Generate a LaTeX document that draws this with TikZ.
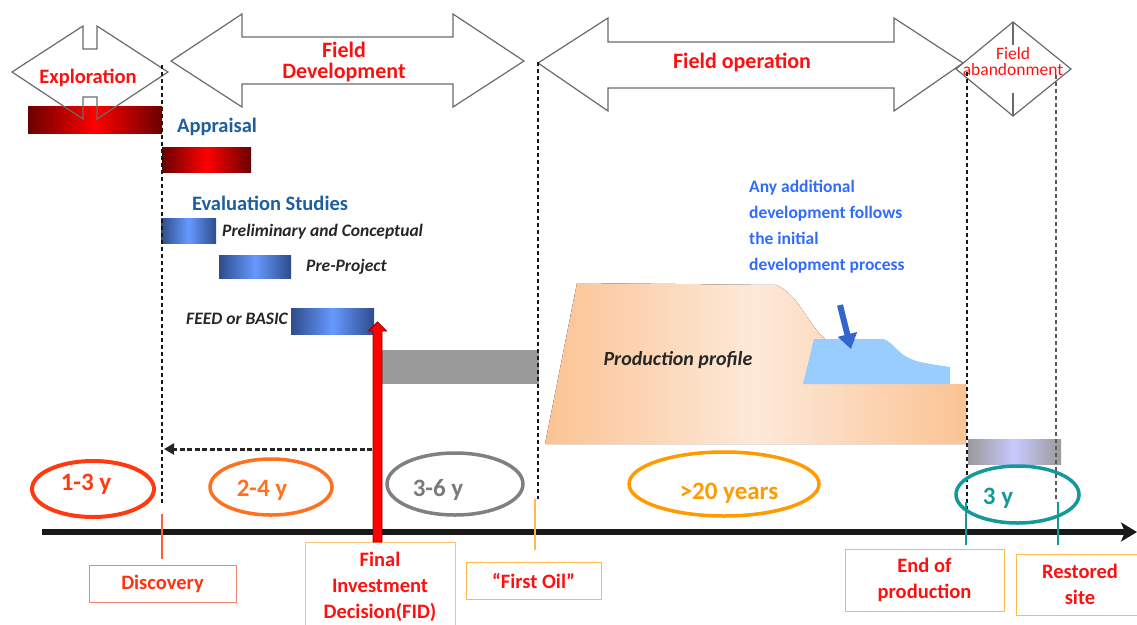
\documentclass[tikz,border=0pt]{standalone}
\usepackage{fontspec}
\setmainfont{Carlito}
\usetikzlibrary{shapes.geometric,arrows.meta}
\definecolor{titlered}{HTML}{FF1010}
\definecolor{arrowgray}{HTML}{6A6A6A}
\definecolor{phaseblue}{HTML}{1F5E9E}
\definecolor{addblue}{HTML}{2F6BFF}
\definecolor{textdark}{HTML}{262626}
\definecolor{darkbarred}{HTML}{6A0000}
\definecolor{darkbarblue}{HTML}{2E4C8C}
\definecolor{lightbarblue}{HTML}{6699FF}
\definecolor{barlav}{HTML}{C8C8FF}
\definecolor{bargray}{HTML}{9A9A9A}
\definecolor{peach}{HTML}{FBC393}
\definecolor{peachlight}{HTML}{FDE9D9}
\definecolor{addfill}{HTML}{99CCFF}
\definecolor{addarrow}{HTML}{3366CC}
\definecolor{cA}{HTML}{FF3A10}
\definecolor{cB}{HTML}{FF7020}
\definecolor{cC}{HTML}{808080}
\definecolor{cD}{HTML}{FF9A00}
\definecolor{cE}{HTML}{13999A}
\definecolor{discborder}{HTML}{F0846E}
\definecolor{boxborder}{HTML}{FFB84D}
\definecolor{fidborder}{HTML}{FFC07A}
\definecolor{fidred}{HTML}{FF0000}
\definecolor{fidedge}{HTML}{8B0000}
\begin{document}
\begin{tikzpicture}[x=1pt,y=-1pt,
  outline/.style={draw=arrowgray, line width=1.2pt, line join=miter},
  vdash/.style={draw=black!90, line width=1.3pt, dash pattern=on 4pt off 3pt},
  ttl/.style={text=titlered, font=\fontsize{22}{21}\selectfont\bfseries, align=center, inner sep=0pt},
  phase/.style={text=phaseblue, font=\fontsize{20.5}{24}\selectfont\bfseries, inner sep=0pt},
  study/.style={text=textdark, font=\fontsize{17.5}{20}\selectfont\bfseries\itshape, inner sep=0pt},
  dur/.style={ellipse, line width=3.5pt, inner sep=0pt},
  durtext/.style={font=\fontsize{25}{28}\selectfont\bfseries, inner sep=0pt},
  milestone/.style={draw, line width=1pt, text=titlered, font=\fontsize{20.5}{26}\selectfont\bfseries, align=center, inner sep=0pt},
  redbar/.style={left color=darkbarred, right color=darkbarred, middle color=red},
  bluebar/.style={left color=darkbarblue, right color=darkbarblue, middle color=lightbarblue},
  tick/.style={line width=1.5pt}
]
\useasboundingbox (0,0) rectangle (1137,624);

% ---------- bars ----------
\fill[redbar] (28,106) rectangle (162,133);
\fill[redbar] (162,147) rectangle (251,172);
\fill[bluebar] (161,218) rectangle (216,243);
\fill[bluebar] (219,255) rectangle (291,278);
\fill[bluebar] (291,308) rectangle (374,334);
\fill[bargray] (382,350) rectangle (539,384);
\fill[left color=bargray, right color=bargray, middle color=barlav] (968,439) rectangle (1061,464);

% ---------- production profile ----------
\fill[left color=peach, right color=peach, middle color=peachlight]
  (545,444) -- (577,283) -- (776,285) .. controls (798,294) and (806,322) .. (826,340)
  -- (826,384) -- (966,384) -- (966,444) -- cycle;
\fill[addfill] (803,384) -- (814,339) -- (883,339)
  .. controls (895,342) and (896,356) .. (920,362)
  .. controls (935,365) and (944,366) .. (950,367) -- (950,384) -- cycle;
\coordinate (ba1) at (840,305);
\coordinate (ba2) at (851,349);
\draw[addarrow, line width=6pt, -{Triangle[length=15pt,width=19pt]}] (ba1) -- (ba2);
\node[text=textdark, font=\fontsize{20}{24}\selectfont\bfseries\itshape, inner sep=0pt] (prod) at (678,360) {Production profile};
\node[text=addblue, font=\fontsize{17.5}{26}\selectfont\bfseries, align=left, inner sep=0pt, anchor=west] (addtxt) at (749,227) {Any additional\\development follows\\the initial\\development process};

% ---------- top phase arrows ----------
\draw[outline] (12,72) -- (83,26) -- (83,49) -- (97,49) -- (97,26) -- (168,72) -- (97,119) -- (97,97) -- (83,97) -- (83,119) -- cycle;
\draw[outline] (171,61) -- (242,14) -- (242,37) -- (453,37) -- (453,14) -- (524,61) -- (453,107) -- (453,84) -- (242,84) -- (242,107) -- cycle;
\draw[outline] (538,63) -- (608,18) -- (608,42) -- (894,42) -- (894,18) -- (963,63) -- (894,111) -- (894,88) -- (608,88) -- (608,111) -- cycle;
\draw[outline] (956,69) -- (1013,22) -- (1071,69) -- (1013,116) -- cycle;
\draw[outline] (1013,22) -- (1013,45);
\draw[outline] (1013,93) -- (1013,116);

\node[ttl, font=\fontsize{20.5}{19}\selectfont\bfseries] (expl) at (88,78) {Exploration};
\node[ttl] (fdev) at (344,62) {Field\\Development};
\node[ttl] (fop) at (742,62) {Field operation};
\node[ttl, font=\fontsize{17.5}{16}\selectfont] (fab) at (1013,61) {Field\\abandonment};

% ---------- phase labels ----------
\node[phase] (appr) at (217,127) {Appraisal};
\node[phase] (eval) at (270,203) {Evaluation Studies};
\node[study, anchor=west] (prel) at (222,232) {Preliminary and Conceptual};
\node[study, anchor=west] (prep) at (306,267) {Pre-Project};
\node[study, anchor=east] (feed) at (288,319) {FEED or BASIC};

% ---------- dashed verticals ----------
\coordinate (d1t) at (162,65);  \coordinate (d1b) at (162,504);
\coordinate (d2t) at (538,62);  \coordinate (d2b) at (538,499);
\coordinate (d3t) at (967,72);  \coordinate (d3b) at (967,509);
\coordinate (d4t) at (1056,75); \coordinate (d4b) at (1056,502);
\draw[vdash] (d1t) -- (d1b);
\draw[vdash] (d2t) -- (d2b);
\draw[vdash] (d3t) -- (d3b);
\draw[vdash, draw=black!65] (d4t) -- (d4b);

% ---------- duration ellipses ----------
\node[dur, draw=cA, line width=4pt, minimum width=122pt, minimum height=56pt] (e1) at (93,489) {};
\node[durtext, text=cA] (t1) at (86,484) {1-3 y};
\node[dur, draw=cB, minimum width=122pt, minimum height=56pt] (e2) at (271,487) {};
\node[durtext, text=cB] (t2) at (262,490) {2-4 y};
\node[dur, draw=cC, minimum width=136pt, minimum height=62pt] (e3) at (455,484) {};
\node[durtext, text=cC!95!black] (t3) at (438,490) {3-6 y};
\node[dur, draw=cD, minimum width=190pt, minimum height=64pt] (e4) at (724,484) {};
\node[durtext, text=cD] (t4) at (729,493) {>20 years};
\node[dur, draw=cE, minimum width=123pt, minimum height=57pt] (e5) at (1017.5,494.5) {};
\node[durtext, text=cE] (t5) at (998,498) {3 y};

% ---------- timeline ----------
\coordinate (tl0) at (42,532);
\coordinate (tl1) at (1137,532);
\draw[black!90, line width=6pt, -{Stealth[length=16pt,width=19pt,inset=4pt]}] (tl0) -- (tl1);

% ---------- milestone boxes ----------
\node[milestone, draw=discborder, text=cA!85!red, minimum width=147pt, minimum height=37pt] (disc) at (162.5,583.5) {Discovery};
\node[milestone, draw=fidborder, minimum width=150pt, minimum height=90pt] (fid) at (380,587) {Final\\Investment\\Decision(FID)};
\node[milestone, draw=boxborder, minimum width=135pt, minimum height=37pt] (foil) at (533.5,580.5) {“First Oil”};
\node[milestone, draw=boxborder, minimum width=159pt, minimum height=62pt] (eop) at (924.5,580) {End of\\production};
\node[milestone, draw=boxborder, minimum width=128pt, minimum height=61pt] (rest) at (1080,584.5) {Restored\\site};

% ---------- ticks to boxes ----------
\coordinate (k1) at (162,514);
\draw[tick, draw=cA!80!white, shorten >=6pt] (k1) -- (k1 |- disc.north);
\coordinate (k2) at (535,499);
\draw[tick, draw=boxborder, shorten >=12pt] (k2) -- (k2 |- foil.north);
\coordinate (k3) at (966,502);
\draw[tick, draw=cE, shorten >=4pt] (k3) -- (k3 |- eop.north);
\coordinate (k4) at (1058,502);
\draw[tick, draw=cE, shorten >=9pt] (k4) -- (k4 |- rest.north);

% ---------- FID arrow ----------
\draw[draw=fidedge, fill=fidred, line width=0.8pt, line join=miter]
  (373,542) -- (373,331) -- (368.5,331) -- (377.5,322) -- (386.5,331) -- (382,331) -- (382,542) -- cycle;
\coordinate (ra) at (372,449);
\coordinate (rb) at (164,449);
\draw[black!85, line width=3pt, dash pattern=on 5pt off 2.5pt, -{Triangle[length=10pt,width=11pt]}] (ra) -- (rb);
\end{tikzpicture}
\end{document}
